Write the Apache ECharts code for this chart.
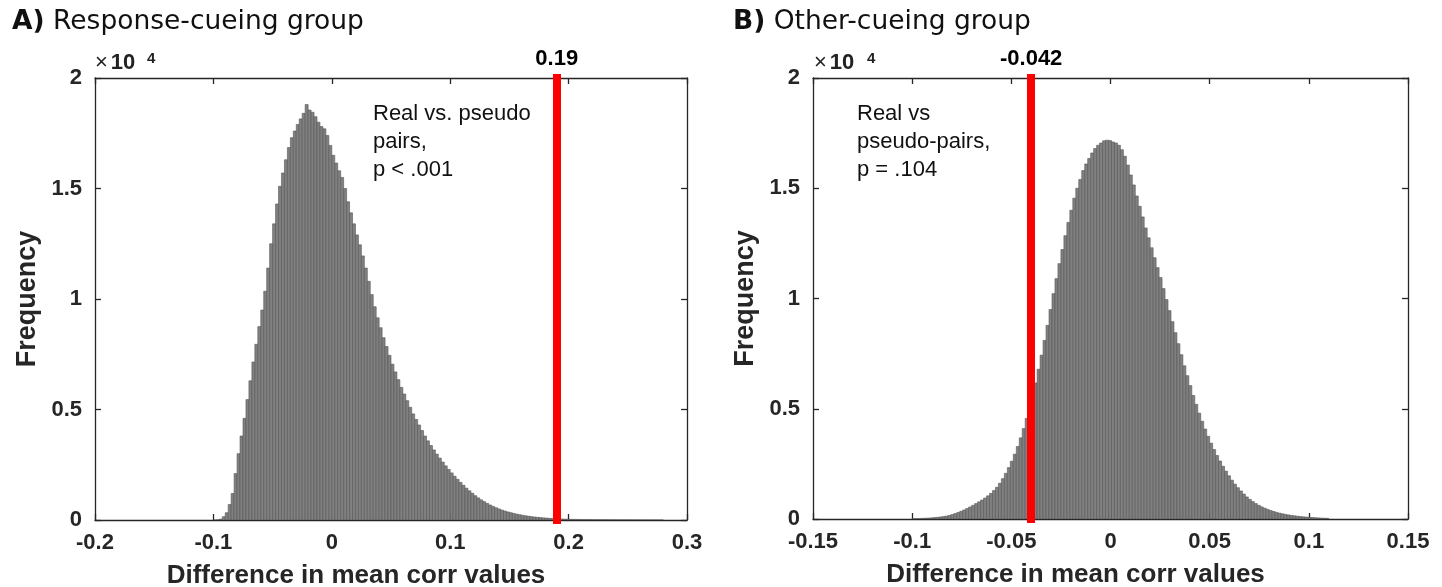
<!DOCTYPE html>
<html><head><meta charset="utf-8">
<script src="https://cdn.jsdelivr.net/npm/echarts@6/dist/echarts.min.js"></script>
<style>html,body{margin:0;padding:0;background:#fff}#c{width:1442px;height:587px}</style>
</head><body><div id="c"></div>
<script>
// ---------- data ----------
const binStartA = -0.1, binWidthA = 0.0025;
const histA = [0,10,40,150,330,700,1200,2100,3000,3800,4600,5450,6300,7150,7950,8750,9500,10350,11400,12500,
13400,14300,15100,15700,16300,16850,17300,17600,17900,18150,18400,18800,18550,18450,18250,18000,17800,17700,17400,16950,
16500,16150,15800,15500,15000,14400,13900,13400,12900,12450,11950,11400,10800,10200,9650,9150,8700,8250,7850,7450,
7050,6700,6350,6000,5700,5400,5100,4800,4550,4300,4050,3800,3580,3370,3170,2980,2800,2620,2450,2290,
2130,1980,1840,1700,1570,1440,1320,1210,1100,1000,910,830,750,680,615,555,500,450,405,365,
330,295,265,238,213,190,170,152,136,121,108,96,86,76,68,60,53,47,42,37,
33,30,27,24,22,20,18,16,14,13,12,11,10,9,8,7,6,6,5,5,4,4,3,3,3,2,2,2,2,1,1,1];
const binStartB = -0.1, binWidthB = 0.0015;
const histB = [12,16,21,27,34,42,51,62,75,90,108,130,160,200,245,295,350,410,475,545,
620,700,780,860,950,1050,1160,1290,1440,1620,1830,2070,2330,2620,2940,3290,3680,4100,4560,5060,
5600,6170,6790,7430,8100,8780,9500,10220,10900,11580,12220,12850,13450,14000,14550,15000,15400,15800,16100,16350,
16600,16800,16950,17050,17150,17180,17160,17100,17050,16950,16750,16450,16050,15600,15150,14650,14180,13700,13200,12750,
12300,11850,11400,10950,10450,9950,9450,8950,8450,7950,7450,6950,6500,6050,5600,5200,4800,4430,4080,3750,
3440,3150,2880,2630,2390,2170,1960,1760,1580,1420,1270,1130,1000,890,790,700,620,550,490,435,
385,340,300,265,235,208,184,162,143,126,111,98,86,76,66,58,50,43,37,32];
const realA = 0.19, realLabelA = '0.19';
const realB = -0.042, realLabelB = '-0.042';
const xRangeA = [-0.2, 0.3], xStepA = 0.1;
const xRangeB = [-0.15, 0.15], xStepB = 0.05;
const yRange = [0, 20000], yStep = 5000, yScale = 10000;
const titleA = 'Response-cueing group', titleB = 'Other-cueing group';
const noteA = 'Real vs. pseudo\npairs,\np < .001';
const noteB = 'Real vs\npseudo-pairs,\np = .104';
const xName = 'Difference in mean corr values', yName = 'Frequency';

// ---------- chart ----------
const chart = echarts.init(document.getElementById('c'));
const AX = '#262626';
const LF = 'Liberation Sans, Arial, sans-serif';
function fmtX(v){ return String(+v.toFixed(3)); }
function xAxes(gi, rng, step){
  return [{
    gridIndex: gi, type: 'value', min: rng[0], max: rng[1], interval: step, position: 'bottom',
    axisLine: {show: true, onZero: false, lineStyle: {color: AX, width: 1.3}},
    axisTick: {show: true, inside: true, length: 6, lineStyle: {color: AX, width: 1.3}},
    axisLabel: {fontFamily: LF, fontWeight: 'bold', fontSize: 22, color: AX, margin: 12, formatter: fmtX},
    splitLine: {show: false},
    name: xName, nameLocation: 'middle', nameGap: 43,
    nameTextStyle: {fontFamily: LF, fontWeight: 'bold', fontSize: 26, color: AX, padding: [0, 70, 0, 0]}
  },{
    gridIndex: gi, type: 'value', min: rng[0], max: rng[1], interval: step, position: 'top',
    axisLine: {show: true, onZero: false, lineStyle: {color: AX, width: 1.3}},
    axisTick: {show: true, inside: true, length: 6, lineStyle: {color: AX, width: 1.3}},
    axisLabel: {show: false}, splitLine: {show: false}
  }];
}
function yAxes(gi){
  return [{
    gridIndex: gi, type: 'value', min: yRange[0], max: yRange[1], interval: yStep, position: 'left',
    axisLine: {show: true, onZero: false, lineStyle: {color: AX, width: 1.3}},
    axisTick: {show: true, inside: true, length: 6, lineStyle: {color: AX, width: 1.3}},
    axisLabel: {fontFamily: LF, fontWeight: 'bold', fontSize: 22, color: AX, margin: 13,
      formatter: v => String(v / yScale)},
    splitLine: {show: false},
    name: yName, nameLocation: 'middle', nameGap: 54, nameRotate: 90,
    nameTextStyle: {fontFamily: LF, fontWeight: 'bold', fontSize: 27, color: AX}
  },{
    gridIndex: gi, type: 'value', min: yRange[0], max: yRange[1], interval: yStep, position: 'right',
    axisLine: {show: true, onZero: false, lineStyle: {color: AX, width: 1.3}},
    axisTick: {show: true, inside: true, length: 6, lineStyle: {color: AX, width: 1.3}},
    axisLabel: {show: false}, splitLine: {show: false}
  }];
}
function histSeries(xi, yi, start, w, vals, realX, realLbl){
  const data = vals.map((v, i) => [start + i * w, start + (i + 1) * w, v]);
  return {
    type: 'custom', xAxisIndex: xi, yAxisIndex: yi, clip: true, data: data,
    renderItem: function(params, api){
      const p0 = api.coord([api.value(0), 0]);
      const p1 = api.coord([api.value(1), api.value(2)]);
      return {type: 'rect', shape: {x: p0[0], y: p1[1], width: p1[0] - p0[0], height: p0[1] - p1[1]},
        style: {fill: '#808080', stroke: '#555555', lineWidth: 0.6}};
    },
    markLine: {
      silent: true, symbol: ['none', 'none'],
      lineStyle: {color: '#ff0000', width: 8, type: 'solid', cap: 'square'},
      label: {show: true, position: 'end', formatter: realLbl, distance: 8,
        fontFamily: LF, fontWeight: 'bold', fontSize: 22, color: '#000'},
      data: [{xAxis: realX}]
    },
    z: 2
  };
}
const noteStyle = {fontFamily: LF, fontSize: 22, fill: '#111', lineHeight: 28};
const titleStyle = {fontFamily: 'DejaVu Sans', fontSize: 26.5, fontWeight: 'normal', color: '#111',
  rich: {b: {fontFamily: 'DejaVu Sans', fontSize: 26.5, fontWeight: 'bold', color: '#111'}}};
const option = {
  animation: false,
  backgroundColor: '#fff',
  title: [
    {text: '{b|A)} ' + titleA, left: 7, top: 4, textStyle: titleStyle},
    {text: '{b|B)} ' + titleB, left: 728, top: 4, textStyle: titleStyle}
  ],
  grid: [
    {left: 95, top: 78, width: 592, height: 442, outerBoundsMode: 'none', containLabel: false},
    {left: 813, top: 78, width: 595, height: 441, outerBoundsMode: 'none', containLabel: false}
  ],
  xAxis: [].concat(xAxes(0, xRangeA, xStepA), xAxes(1, xRangeB, xStepB)),
  yAxis: [].concat(yAxes(0), yAxes(1)),
  series: [
    histSeries(0, 0, binStartA, binWidthA, histA, realA, realLabelA),
    histSeries(2, 2, binStartB, binWidthB, histB, realB, realLabelB)
  ],
  graphic: [
    {type: 'text', left: 95, top: 52, style: {text: '{x|×}{t|10}', fill: '#222',
      rich: {x: {fontFamily: LF, fontSize: 22, fill: '#222'}, t: {fontFamily: LF, fontSize: 22, fontWeight: 'bold', fill: '#222', padding: [0,0,0,3]}}}},
    {type: 'text', left: 147, top: 51, style: {text: '4', fontFamily: LF, fontSize: 15, fontWeight: 'bold', fill: '#222'}},
    {type: 'text', left: 814, top: 52, style: {text: '{x|×}{t|10}', fill: '#222',
      rich: {x: {fontFamily: LF, fontSize: 22, fill: '#222'}, t: {fontFamily: LF, fontSize: 22, fontWeight: 'bold', fill: '#222', padding: [0,0,0,3]}}}},
    {type: 'text', left: 867, top: 51, style: {text: '4', fontFamily: LF, fontSize: 15, fontWeight: 'bold', fill: '#222'}},
    {type: 'text', left: 373, top: 100, style: Object.assign({text: noteA}, noteStyle)},
    {type: 'text', left: 857, top: 100, style: Object.assign({text: noteB}, noteStyle)}
  ]
};
chart.setOption(option);
</script></body></html>
